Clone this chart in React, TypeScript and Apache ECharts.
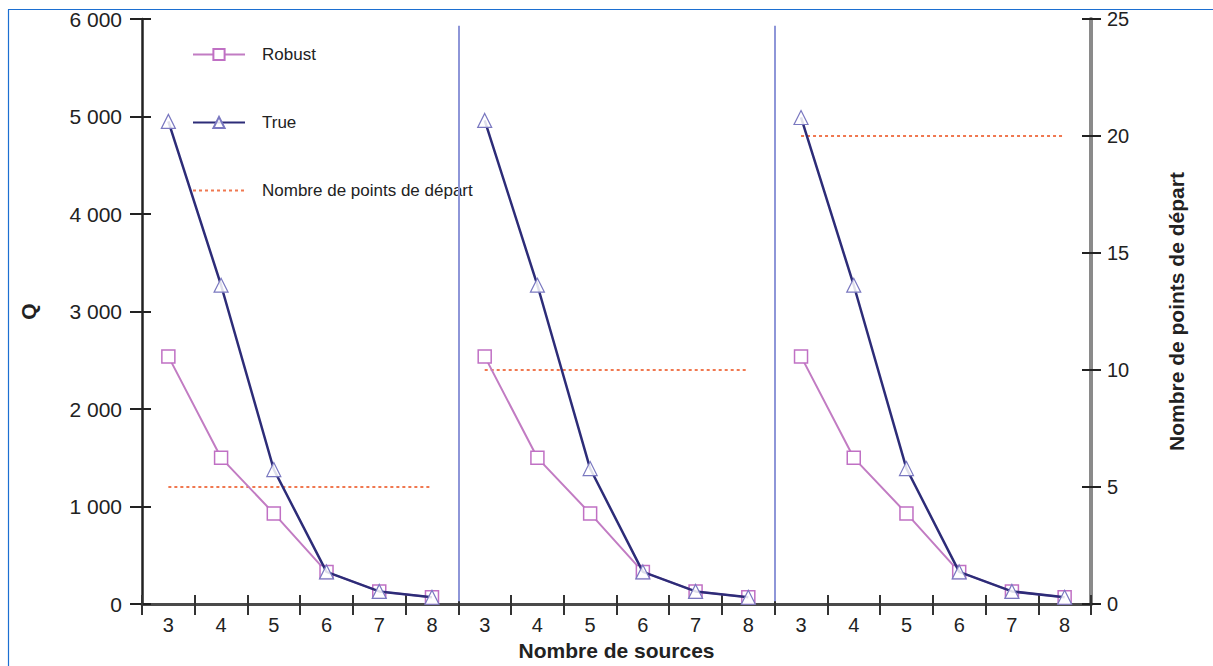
import React, { useEffect, useRef } from "react";
import * as echarts from "echarts";

const sources = [3, 4, 5, 6, 7, 8];
const robustP1 = [2540, 1500, 930, 330, 130, 70];
const robustP2 = [2540, 1500, 930, 330, 130, 70];
const robustP3 = [2540, 1500, 930, 330, 130, 70];
const trueP1 = [4950, 3270, 1380, 330, 130, 70];
const trueP2 = [4960, 3270, 1390, 330, 130, 70];
const trueP3 = [4990, 3270, 1390, 330, 130, 70];
const startPoints = [5, 10, 20];
const panelBoundaries = [6, 12];
const leftTicks = [0, 1000, 2000, 3000, 4000, 5000, 6000];

const robustPanels = [robustP1, robustP2, robustP3];
const truePanels = [trueP1, trueP2, trueP3];

const FONT = "'Liberation Sans', Arial, Helvetica, sans-serif";

export default function App() {
  const ref = useRef<HTMLDivElement>(null);

  useEffect(() => {
    if (!ref.current) return;
    const chart = echarts.init(ref.current, undefined, { renderer: "svg" });

    const cats: string[] = [];
    for (let p = 0; p < 3; p++) for (const s of sources) cats.push(`${p}-${s}`);
    const catLabel = (v: string) => v.split("-")[1];
    const n = cats.length;

    const pad = (vals: number[], p: number) => {
      const arr: (number | null)[] = new Array(n).fill(null);
      vals.forEach((v, i) => (arr[p * 6 + i] = v));
      return arr;
    };

    const series: any[] = [];
    for (let p = 0; p < 3; p++) {
      series.push({
        name: "Robust",
        type: "line",
        xAxisIndex: 0,
        yAxisIndex: 0,
        data: pad(robustPanels[p], p),
        symbol: "rect",
        symbolSize: 13,
        lineStyle: { color: "#c27cc3", width: 2 },
        itemStyle: { color: "#ffffff", borderColor: "#c070c4", borderWidth: 1.5 },
        color: "#c27cc3",
        z: 3,
      });
    }
    for (let p = 0; p < 3; p++) {
      series.push({
        name: "True",
        type: "line",
        xAxisIndex: 0,
        yAxisIndex: 0,
        data: pad(truePanels[p], p),
        symbol: "triangle",
        symbolSize: 14,
        lineStyle: { color: "#2d2c78", width: 2.5 },
        itemStyle: { color: "rgba(255,255,255,0.85)", borderColor: "#7a78c0", borderWidth: 1.2 },
        color: "#2d2c78",
        z: 4,
      });
    }
    for (let p = 0; p < 3; p++) {
      series.push({
        name: "Nombre de points de départ",
        type: "line",
        xAxisIndex: 0,
        yAxisIndex: 1,
        data: pad(new Array(6).fill(startPoints[p]), p),
        symbol: "none",
        lineStyle: { color: "#f07850", width: 2, type: [3, 3] },
        itemStyle: { color: "rgba(0,0,0,0)", borderWidth: 0 },
        z: 2,
      });
    }
    series.push({
      type: "line",
      xAxisIndex: 3,
      yAxisIndex: 0,
      data: [],
      silent: true,
      markLine: {
        silent: true,
        symbol: "none",
        label: { show: false },
        lineStyle: { color: "#8e96d8", width: 2, type: "solid" },
        data: panelBoundaries.map((b) => [
          { coord: [b, 30] },
          { coord: [b, 5930] },
        ]),
      },
    });

    const labelStyle = { color: "#222", fontSize: 21, fontFamily: FONT };
    const nameStyle = { color: "#222", fontSize: 21, fontWeight: "bold", fontFamily: FONT };

    chart.setOption({
      animation: false,
      backgroundColor: "#ffffff",
      textStyle: { fontFamily: FONT },
      grid: { left: 142, right: 122, top: 19, bottom: 58, containLabel: false },
      legend: {
        data: [
          "Robust",
          "True",
          { name: "Nombre de points de départ", itemStyle: { color: "rgba(0,0,0,0)", borderWidth: 0 } },
        ],
        orient: "vertical",
        left: 187,
        top: 41,
        itemWidth: 52,
        itemHeight: 14,
        itemGap: 51,
        textStyle: { color: "#222", fontSize: 17, fontFamily: FONT, padding: [0, 0, 0, 12] },
        selectedMode: false,
      },
      graphic: [
        { type: "line", shape: { x1: 8, y1: 9.5, x2: 1213, y2: 9.5 }, style: { stroke: "#1c6fd1", lineWidth: 1.2 } },
        { type: "line", shape: { x1: 8.5, y1: 9.5, x2: 8.5, y2: 666 }, style: { stroke: "#1c6fd1", lineWidth: 1.2 } },
      ],
      xAxis: [
        {
          type: "category",
          data: cats,
          position: "bottom",
          boundaryGap: true,
          axisLine: { show: true, lineStyle: { color: "#333", width: 2 } },
          axisTick: { show: true, interval: 0, length: 11, lineStyle: { color: "#333", width: 2 } },
          axisLabel: { interval: 0, formatter: catLabel, margin: 11, ...labelStyle, fontSize: 20 },
          splitLine: { show: false },
          name: "Nombre de sources",
          nameLocation: "middle",
          nameGap: 34,
          nameTextStyle: nameStyle,
        },
        {
          type: "category",
          data: cats,
          position: "bottom",
          axisLine: { show: false },
          axisTick: { show: true, inside: true, interval: 0, length: 9, lineStyle: { color: "#333", width: 2 } },
          axisLabel: { show: false },
          splitLine: { show: false },
        },
        {
          type: "category",
          data: cats,
          position: "top",
          axisLine: { show: true, lineStyle: { color: "#4a4a4a", width: 3 } },
          axisTick: { show: false },
          axisLabel: { show: false },
          splitLine: { show: false },
        },
        { type: "value", min: 0, max: n, show: false },
      ],
      yAxis: [
        {
          type: "value",
          position: "left",
          min: leftTicks[0],
          max: leftTicks[leftTicks.length - 1],
          interval: 1000,
          axisLine: { show: true, lineStyle: { color: "#222", width: 2.5 } },
          axisTick: { show: true, length: 12, lineStyle: { color: "#222", width: 2 } },
          axisLabel: {
            ...labelStyle,
            margin: 20,
            formatter: (v: number) => String(v).replace(/\B(?=(\d{3})+(?!\d))/g, " "),
          },
          splitLine: { show: false },
          name: "Q",
          nameLocation: "middle",
          nameGap: 103,
          nameRotate: 90,
          nameTextStyle: nameStyle,
        },
        {
          type: "value",
          position: "right",
          min: 0,
          max: 25,
          interval: 5,
          axisLine: { show: true, lineStyle: { color: "#8a8a8a", width: 4 } },
          axisTick: { show: true, length: 10, lineStyle: { color: "#222", width: 2 } },
          axisLabel: { ...labelStyle, fontSize: 20, margin: 16 },
          splitLine: { show: false },
          name: "Nombre de points de départ",
          nameLocation: "middle",
          nameGap: 75,
          nameRotate: 90,
          nameTextStyle: nameStyle,
        },
        {
          type: "value",
          position: "left",
          min: 0,
          max: 6000,
          interval: 1000,
          axisLine: { show: false },
          axisTick: { show: true, inside: true, length: 9, lineStyle: { color: "#222", width: 2 } },
          axisLabel: { show: false },
          splitLine: { show: false },
        },
        {
          type: "value",
          position: "right",
          min: 0,
          max: 25,
          interval: 5,
          axisLine: { show: false },
          axisTick: { show: true, inside: true, length: 9, lineStyle: { color: "#222", width: 2 } },
          axisLabel: { show: false },
          splitLine: { show: false },
        },
      ],
      series,
    });

    return () => chart.dispose();
  }, []);

  return (
    <div
      ref={ref}
      style={{ position: "fixed", left: 0, top: 0, width: 1213, height: 666, background: "#fff" }}
    />
  );
}
